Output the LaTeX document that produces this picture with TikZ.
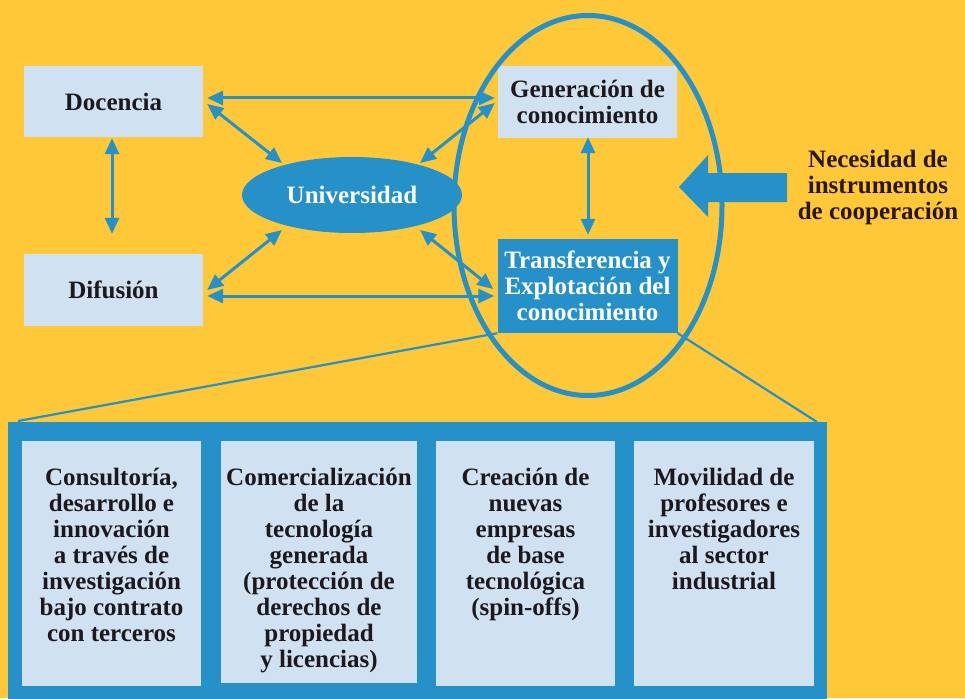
\documentclass[tikz,border=0pt]{standalone}
\usepackage{fontspec}
\setmainfont{Liberation Serif}[BoldFont={Liberation Serif Bold},ItalicFont={Liberation Serif Italic}]
\usetikzlibrary{arrows.meta,shapes.geometric,calc}
\definecolor{bgyel}{RGB}{255,200,56}
\definecolor{bluec}{RGB}{38,144,200}
\definecolor{lightc}{RGB}{208,226,242}
\definecolor{textc}{RGB}{28,24,28}
\definecolor{browntxt}{RGB}{40,22,8}
\newcommand\mainfnt{\rmfamily\fontsize{25}{26}\selectfont\bfseries}
\tikzset{
  lbox/.style={rectangle, fill=lightc, inner sep=0pt, text=textc, font=\mainfnt, align=center},
  dbox/.style={rectangle, fill=bluec, inner sep=0pt, text=white, font=\mainfnt, align=center},
  arr/.style={draw=bluec, line width=3pt, {Triangle[length=16pt 0,width=14pt 0]}-{Triangle[length=16pt 0,width=14pt 0]}},
  fan/.style={draw=bluec, line width=2.2pt},
  txt/.style={inner sep=0pt, text=textc, font=\mainfnt, anchor=base}
}
\begin{document}
\begin{tikzpicture}[x=1pt,y=-1pt]
\useasboundingbox (0,0) rectangle (965,698);
\fill[bgyel] (0,0) rectangle (965,698);

% top nodes
\node[lbox, minimum width=179pt, minimum height=71pt] (doc) at (113.5,101.5) {Docencia};
\node[lbox, minimum width=179pt, minimum height=72pt] (dif) at (113.5,290) {Difusión};
\node[lbox, minimum width=179pt, minimum height=72pt] (gen) at (587.5,102) {Generación de\\conocimiento};
\node[dbox, minimum width=180pt, minimum height=94pt] (tra) at (587.5,286) {Transferencia y\\Explotación del\\conocimiento};
\node[ellipse, fill=bluec, inner sep=0pt, minimum width=220pt, minimum height=76pt, text=white, font=\mainfnt] (uni) at (352,195) {Universidad};

% big ring
\draw[bluec, line width=5pt] (588,205.5) ellipse [x radius=134, y radius=190];

% connectors
\draw[arr] ($(doc.east)+(4,-3.5)$) -- ($(gen.west)+(-3,-4)$);
\draw[arr] ($(dif.east)+(4,6)$) -- ($(tra.west)+(-3,10)$);
\draw[arr] ($(doc.east)+(4,2.5)$) -- ($(uni.center)+(-70,-32)$);
\draw[arr] ($(dif.east)+(4,0)$) -- ($(uni.center)+(-70,35)$);
\draw[arr] ($(uni.center)+(68,-32)$) -- ($(gen.west)+(-3,1)$);
\draw[arr] ($(uni.center)+(68,35)$) -- ($(tra.west)+(-4,3)$);
\draw[arr] ($(doc.south)+(-1.5,1)$) -- ($(dif.north)+(-1.5,-20)$);
\draw[arr] ($(gen.south)+(0.5,-1)$) -- ($(tra.north)+(0.5,-4)$);

% big arrow
\fill[bluec] (679,187) -- (708,155) -- (708,173) -- (787,173) -- (787,202) -- (708,202) -- (708,217) -- cycle;
\node[text=browntxt, font=\mainfnt, align=center, inner sep=0pt] (need) at (878,187) {Necesidad de\\instrumentos\\de cooperación};

% bottom panel
\node[rectangle, fill=bluec, inner sep=0pt, minimum width=819pt, minimum height=283pt, anchor=north west] (panel) at (8,422) {};
\coordinate (fl) at (18,421);
\coordinate (fr) at (817,422);
\draw[fan] (tra.south west) -- (fl);
\draw[fan] (tra.south east) -- (fr);

\node[lbox, minimum width=179pt, minimum height=245pt, anchor=north west] (b1) at (22,441) {};
\node[lbox, minimum width=196pt, minimum height=242pt, anchor=north west] (b2) at (221,441) {};
\node[lbox, minimum width=179pt, minimum height=245pt, anchor=north west] (b3) at (436,441) {};
\node[lbox, minimum width=180pt, minimum height=245pt, anchor=north west] (b4) at (634,441) {};

\node[txt] (t1) at (111.5,485) {\begin{tabular}[t]{@{}c@{}}Consultoría,\\desarrollo e\\innovación\\a través de\\investigación\\bajo contrato\\con terceros\end{tabular}};
\node[txt] (t2) at (319,485) {\begin{tabular}[t]{@{}c@{}}Comercialización\\de la\\tecnología\\generada\\(protección de\\derechos de\\propiedad\\y licencias)\end{tabular}};
\node[txt] (t3) at (525.5,485) {\begin{tabular}[t]{@{}c@{}}Creación de\\nuevas\\empresas\\de base\\tecnológica\\(spin-offs)\end{tabular}};
\node[txt] (t4) at (724,485) {\begin{tabular}[t]{@{}c@{}}Movilidad de\\profesores e\\investigadores\\al sector\\industrial\end{tabular}};
\end{tikzpicture}
\end{document}
